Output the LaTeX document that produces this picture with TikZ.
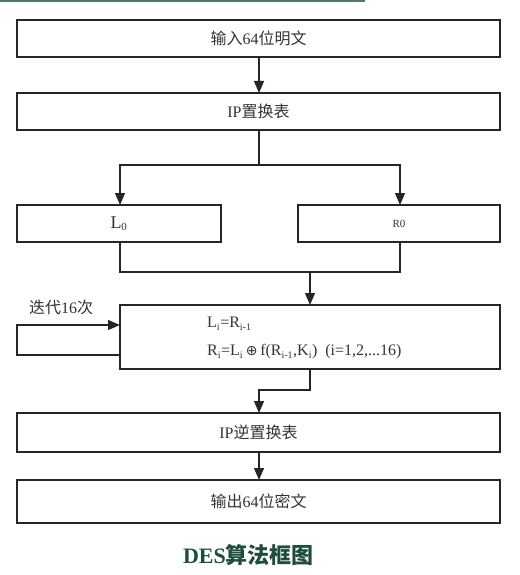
\documentclass[tikz,border=0pt]{standalone}
\usepackage{fontspec}
\setmainfont{Liberation Serif}
\newfontfamily\cjk{Noto Sans CJK SC}
\usetikzlibrary{arrows.meta}
\definecolor{topgreen}{HTML}{4D7A6A}
\definecolor{capgreen}{HTML}{1F4D3D}
\tikzset{
  boxst/.style={draw=black!85, line width=1.5pt},
  conn/.style={draw=black!85, line width=1.3pt},
  arr/.style={conn, -{Triangle[length=12pt,width=10pt]}},
  lbl/.style={font=\fontsize{16}{18}\selectfont, text=black!80, inner sep=0pt},
}
\begin{document}
\begin{tikzpicture}[x=1pt,y=-1pt]
\useasboundingbox (0,0) rectangle (519,575);
\fill[topgreen] (0,0) rectangle (365,2);
% boxes
\draw[boxst] (17,20) rectangle (500,57);
\node[lbl] (t1) at (258.5,38.5) {{\cjk 输入}64{\cjk 位明文}};
\coordinate (b1t) at (259,20); \coordinate (b1b) at (259,57);
\draw[boxst] (17,93) rectangle (500,130);
\node[lbl] (t2) at (258.5,111.5) {IP{\cjk 置换表}};
\coordinate (b2t) at (259,93); \coordinate (b2b) at (259,130);
\draw[boxst] (17,205) rectangle (221,242);
\node[lbl, font=\fontsize{18}{18}\selectfont] (tl) at (119,223.5) {L\textsubscript{\fontsize{11}{11}\selectfont 0}};
\draw[boxst] (298,205) rectangle (500,242);
\node[lbl, font=\fontsize{11}{12}\selectfont] (tr) at (399,223.5) {R0};
\coordinate (lt) at (120,205); \coordinate (lb) at (120,242);
\coordinate (rt) at (400,205); \coordinate (rb) at (400,242);
\draw[boxst] (120,305) rectangle (500,369);
\coordinate (it) at (310,305); \coordinate (ib) at (310,369);
\coordinate (il1) at (120,325); \coordinate (il2) at (120,355);
\node[lbl, anchor=west, font=\fontsize{16}{18}\selectfont] (eq1) at (207,324) {L\textsubscript{\fontsize{10}{10}\selectfont i}=R\textsubscript{\fontsize{10}{10}\selectfont i-1}};
\node[lbl, anchor=west, font=\fontsize{16}{18}\selectfont] (eq2) at (207,352) {R\textsubscript{\fontsize{10}{10}\selectfont i}=L\textsubscript{\fontsize{10}{10}\selectfont i}\,{\fontspec{DejaVu Sans}\fontsize{14}{16}\selectfont ⊕}\,f(R\textsubscript{\fontsize{10}{10}\selectfont i-1},K\textsubscript{\fontsize{10}{10}\selectfont i})\ \ (i=1,2,...16)};
\node[lbl] (loop) at (61,307) {{\cjk 迭代}16{\cjk 次}};
\draw[boxst] (17,413) rectangle (500,452);
\node[lbl] (t3) at (258.5,432.5) {IP{\cjk 逆置换表}};
\coordinate (b3t) at (259,413); \coordinate (b3b) at (259,452);
\draw[boxst] (17,480) rectangle (500,523);
\node[lbl] (t4) at (258.5,501.5) {{\cjk 输出}64{\cjk 位密文}};
\coordinate (b4t) at (259,480);
% connectors
\draw[arr] (b1b) -- (b2t);
\draw[conn] (b2b) -- (259,165);
\draw[arr] (259,165) -| (lt);
\draw[arr] (259,165) -| (rt);
\draw[conn] (lb) -- (120,272) -- (400,272) -- (rb);
\draw[arr] (310,272) -- (it);
\draw[arr] (il2) -- (17,355) -- (17,325) -- (il1);
\draw[arr] (ib) -- (310,390) -| (b3t);
\draw[arr] (b3b) -- (b4t);
\node[font=\fontsize{22}{24}\selectfont\bfseries, text=capgreen] (cap) at (248.5,555) {DES{\cjk 算法框图}};
\end{tikzpicture}
\end{document}
